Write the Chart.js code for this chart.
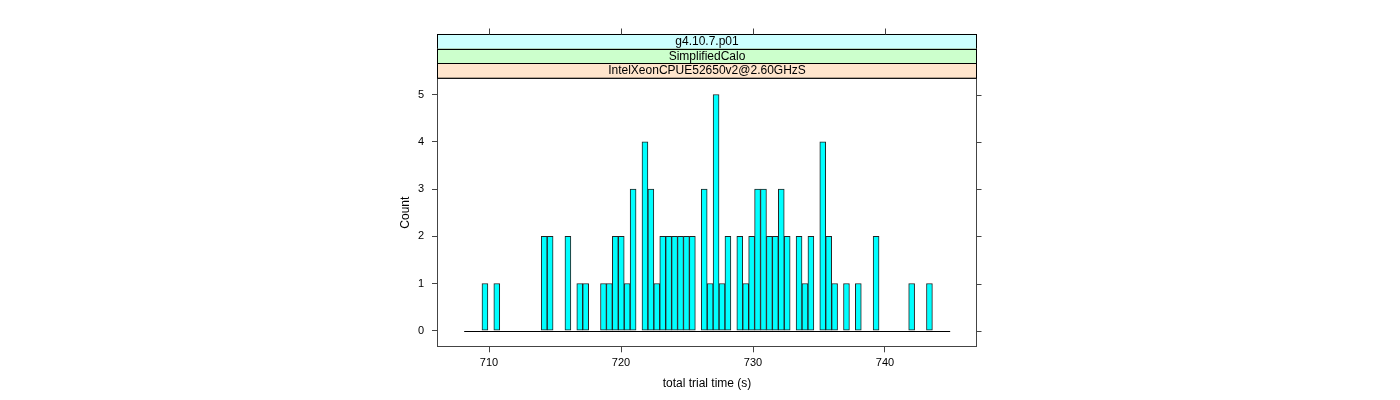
<!DOCTYPE html>
<html>
<head>
<meta charset="utf-8">
<script src="https://cdn.jsdelivr.net/npm/chart.js@4/dist/chart.umd.min.js"></script>
<style>
  body { margin: 0; background: #fff; }
  canvas { display: block; }
</style>
</head>
<body>
<canvas id="chart" width="1400" height="400"></canvas>
<script>
// histogram breaks: first edge and bin width (seconds)
const binStart = 708.12;
const binWidth = 0.449;

// counts per bin
const counts = [
  0, 0, 0, 1, 0, 1, 0, 0, 0, 0,
  0, 0, 0, 2, 2, 0, 0, 2, 0, 1,
  1, 0, 0, 1, 1, 2, 2, 1, 3, 0,
  4, 3, 1, 2, 2, 2, 2, 2, 2, 0,
  3, 1, 5, 1, 2, 0, 2, 1, 2, 3,
  3, 2, 2, 3, 2, 0, 2, 1, 2, 0,
  4, 2, 1, 0, 1, 0, 1, 0, 0, 2,
  0, 0, 0, 0, 0, 1, 0, 0, 1, 0,
  0, 0
];

const xTicks = [710, 720, 730, 740];
const yTicks = [0, 1, 2, 3, 4, 5];

const stripLabels = ['g4.10.7.p01', 'SimplifiedCalo', 'IntelXeonCPUE52650v2@2.60GHzS'];
const stripColors = ['#ccffff', '#ccffcc', '#ffe5cc'];

const points = counts.map((c, i) => ({ x: binStart + binWidth * (i + 0.5), y: c }));

const axisColor = '#444';
const fontFamily = '"Liberation Sans", Arial, Helvetica, sans-serif';

// lattice-like frame, strips, extra ticks and baseline
const latticePlugin = {
  id: 'lattice',
  beforeDraw(chart) {
    const ctx = chart.ctx;
    ctx.save();
    ctx.fillStyle = '#fff';
    ctx.fillRect(0, 0, chart.width, chart.height);
    ctx.restore();
  },
  afterDatasetsDraw(chart) {
    const ctx = chart.ctx;
    const area = chart.chartArea;
    const xs = chart.scales.x;
    const ys = chart.scales.y;
    ctx.save();

    // baseline under the histogram
    const y0 = Math.round(ys.getPixelForValue(0)) + 0.5;
    ctx.strokeStyle = '#000';
    ctx.lineWidth = 1;
    ctx.beginPath();
    ctx.moveTo(xs.getPixelForValue(binStart), y0);
    ctx.lineTo(xs.getPixelForValue(binStart + binWidth * counts.length), y0);
    ctx.stroke();

    // panel frame
    const l = Math.round(area.left) + 0.5, r = Math.round(area.right) - 0.5;
    const t = Math.round(area.top) + 0.5, b = Math.round(area.bottom) - 0.5;
    ctx.strokeStyle = axisColor;
    ctx.strokeRect(l, t, r - l, b - t);

    // right ticks
    ctx.beginPath();
    yTicks.forEach(v => {
      const py = Math.round(ys.getPixelForValue(v)) + 0.5;
      ctx.moveTo(r, py);
      ctx.lineTo(r + 5, py);
    });
    ctx.stroke();

    // strips
    const stripH = 14.7;
    ctx.font = '12px ' + fontFamily;
    ctx.textAlign = 'center';
    ctx.textBaseline = 'middle';
    for (let i = 0; i < stripLabels.length; i++) {
      const sy = area.top - stripH * (stripLabels.length - i);
      ctx.fillStyle = stripColors[i];
      ctx.fillRect(l, sy, r - l, stripH);
      ctx.strokeStyle = '#000';
      ctx.strokeRect(l, Math.round(sy) + 0.5, r - l, stripH);
      ctx.fillStyle = '#000';
      ctx.fillText(stripLabels[i], (l + r) / 2, sy + stripH / 2 + 0.5);
    }

    // top ticks above the strips
    const stripTop = Math.round(area.top - stripH * stripLabels.length) + 0.5;
    ctx.strokeStyle = axisColor;
    ctx.beginPath();
    xTicks.forEach(v => {
      const px = Math.round(xs.getPixelForValue(v)) + 0.5;
      ctx.moveTo(px, stripTop);
      ctx.lineTo(px, stripTop - 6);
    });
    ctx.stroke();
    ctx.restore();
  }
};

new Chart(document.getElementById('chart'), {
  type: 'bar',
  data: {
    datasets: [{
      data: points,
      backgroundColor: '#00ffff',
      borderColor: '#222',
      borderWidth: 1,
      borderSkipped: false,
      barPercentage: 1,
      categoryPercentage: 1
    }]
  },
  options: {
    responsive: false,
    animation: false,
    events: [],
    layout: { padding: { left: 377, right: 423, top: 78, bottom: 0 } },
    plugins: { legend: { display: false }, tooltip: { enabled: false } },
    scales: {
      x: {
        type: 'linear',
        position: 'bottom',
        offset: false,
        min: 706.06,
        max: 746.97,
        afterBuildTicks: s => { s.ticks = xTicks.map(v => ({ value: v })); },
        afterFit: s => { s.height = 52.7; },
        grid: { display: true, offset: false, drawOnChartArea: false, drawTicks: true, tickLength: 5, color: axisColor },
        border: { display: false },
        ticks: { color: '#000', padding: 4, maxRotation: 0, font: { size: 11, family: fontFamily } },
        title: { display: true, text: 'total trial time (s)', color: '#000',
                 font: { size: 12, family: fontFamily }, padding: { top: 0, bottom: 9 } }
      },
      y: {
        type: 'linear',
        position: 'left',
        min: -0.35,
        max: 5.35,
        afterBuildTicks: s => { s.ticks = yTicks.map(v => ({ value: v })); },
        afterFit: s => { s.width = 60; },
        grid: { display: true, drawOnChartArea: false, drawTicks: true, tickLength: 5, color: axisColor },
        border: { display: false },
        ticks: { color: '#000', padding: 8, font: { size: 11, family: fontFamily } },
        title: { display: true, text: 'Count', color: '#000',
                 font: { size: 12, family: fontFamily }, padding: { top: 21, bottom: 0 } }
      }
    }
  },
  plugins: [latticePlugin]
});
</script>
</body>
</html>
